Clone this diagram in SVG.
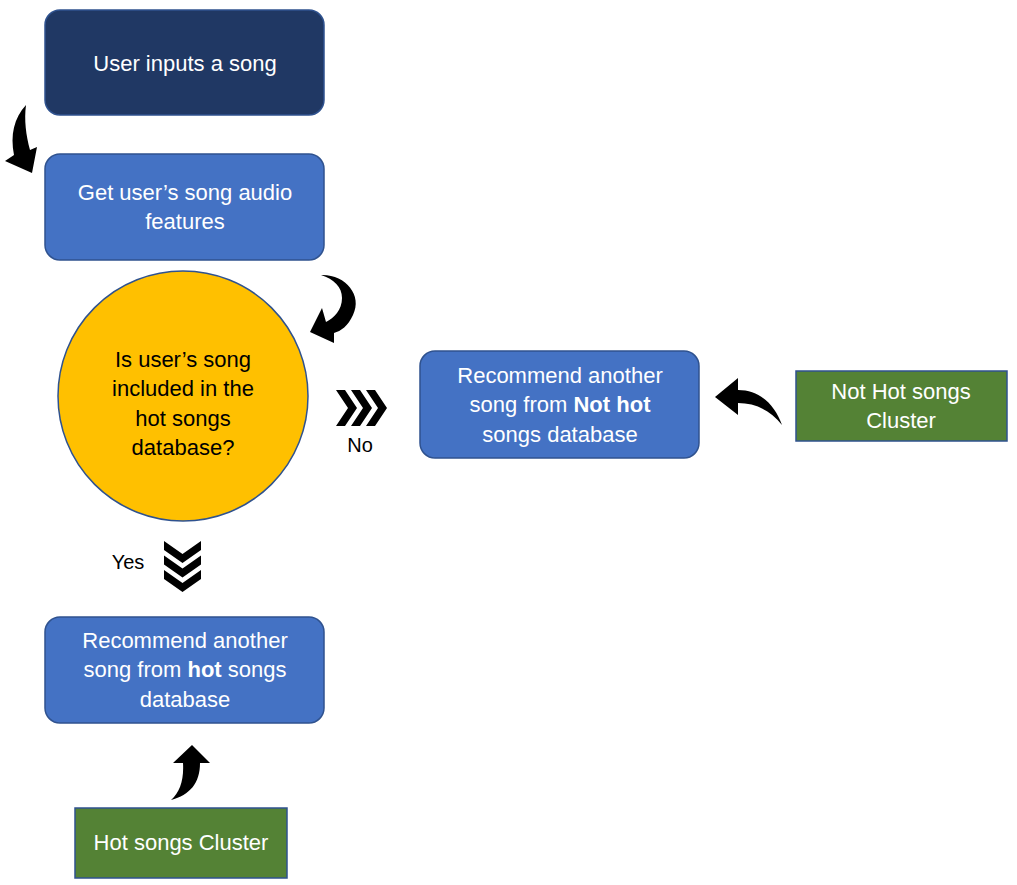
<svg xmlns="http://www.w3.org/2000/svg" width="1017" height="885" viewBox="0 0 1017 885">
<style>
.box{stroke:#2F528F;stroke-width:1.5}
.t{font-family:"Liberation Sans",Arial,sans-serif;font-size:22px;fill:#fff;text-anchor:middle}
.d{font-family:"Liberation Sans",Arial,sans-serif;font-size:22px;fill:#000;text-anchor:middle}
.l{font-family:"Liberation Sans",Arial,sans-serif;font-size:20px;fill:#000;text-anchor:middle}
.a{fill:#000}
</style>
<rect width="1017" height="885" fill="#fff"/>
<g id="n1"><rect class="box" x="45" y="10" width="279" height="105" rx="15" fill="#203864"/><text class="t" x="185" y="71">User inputs a song</text></g>
<g id="n2"><rect class="box" x="45" y="154" width="279" height="106" rx="15" fill="#4472C4"/><text class="t" x="185" y="200">Get user’s song audio</text><text class="t" x="185" y="229">features</text></g>
<g id="n3"><circle class="box" cx="183" cy="396" r="125" fill="#FFC000"/><text class="d" x="183" y="367">Is user’s song</text><text class="d" x="183" y="396">included in the</text><text class="d" x="183" y="426">hot songs</text><text class="d" x="183" y="455">database?</text></g>
<g id="n4"><rect class="box" x="420" y="351" width="279" height="107" rx="15" fill="#4472C4"/><text class="t" x="560" y="383">Recommend another</text><text class="t" x="560" y="412">song from <tspan font-weight="bold">Not hot</tspan></text><text class="t" x="560" y="442">songs database</text></g>
<g id="n5"><rect class="box" x="45" y="617" width="279" height="106" rx="15" fill="#4472C4"/><text class="t" x="185" y="648">Recommend another</text><text class="t" x="185" y="677">song from <tspan font-weight="bold">hot</tspan> songs</text><text class="t" x="185" y="707">database</text></g>
<g id="n6"><rect class="box" x="796" y="371" width="211" height="70" fill="#548235"/><text class="t" x="901" y="399">Not Hot songs</text><text class="t" x="901" y="428">Cluster</text></g>
<g id="n7"><rect class="box" x="75" y="808" width="212" height="70" fill="#548235"/><text class="t" x="181" y="850">Hot songs Cluster</text></g>
<g id="connectors">
<path class="a" d="M26,105 C14,118 10,135 14,155 L5,161 L32,173 L37,147 L30,150 C26,135 24,120 26,105 Z"/>
<path class="a" d="M321,275 C345,274 363,295 353,315 C348,326 341,331 334,333 L334,343 L310,332 L322,308 L326,322 C334,318 342,310 342,298 C342,287 334,279 321,275 Z"/>
<g class="a">
<polygon points="336,390 345,390 357,408 345,426 336,426 348,408"/>
<polygon points="351,390 360,390 372,408 360,426 351,426 363,408"/>
<polygon points="366,390 375,390 387,408 375,426 366,426 378,408"/>
</g>
<text class="l" x="360" y="452">No</text>
<g class="a">
<polygon points="164,541 182.5,554 201,541 201,550 182.5,563 164,550"/>
<polygon points="164,555.5 182.5,568.5 201,555.5 201,564.5 182.5,577.5 164,564.5"/>
<polygon points="164,570 182.5,583 201,570 201,579 182.5,592 164,579"/>
</g>
<text class="l" x="128" y="569">Yes</text>
<path class="a" d="M171,800 C180,792 184,780 183,763 L173,763 L192,745 L210,763 L200,763 C200,783 190,795 171,800 Z"/>
<path class="a" d="M782,425 C775,405 760,390 738,390 L738,378 L715,397 L738,415 L738,403 C755,403 770,410 782,425 Z"/>
</g>
</svg>
